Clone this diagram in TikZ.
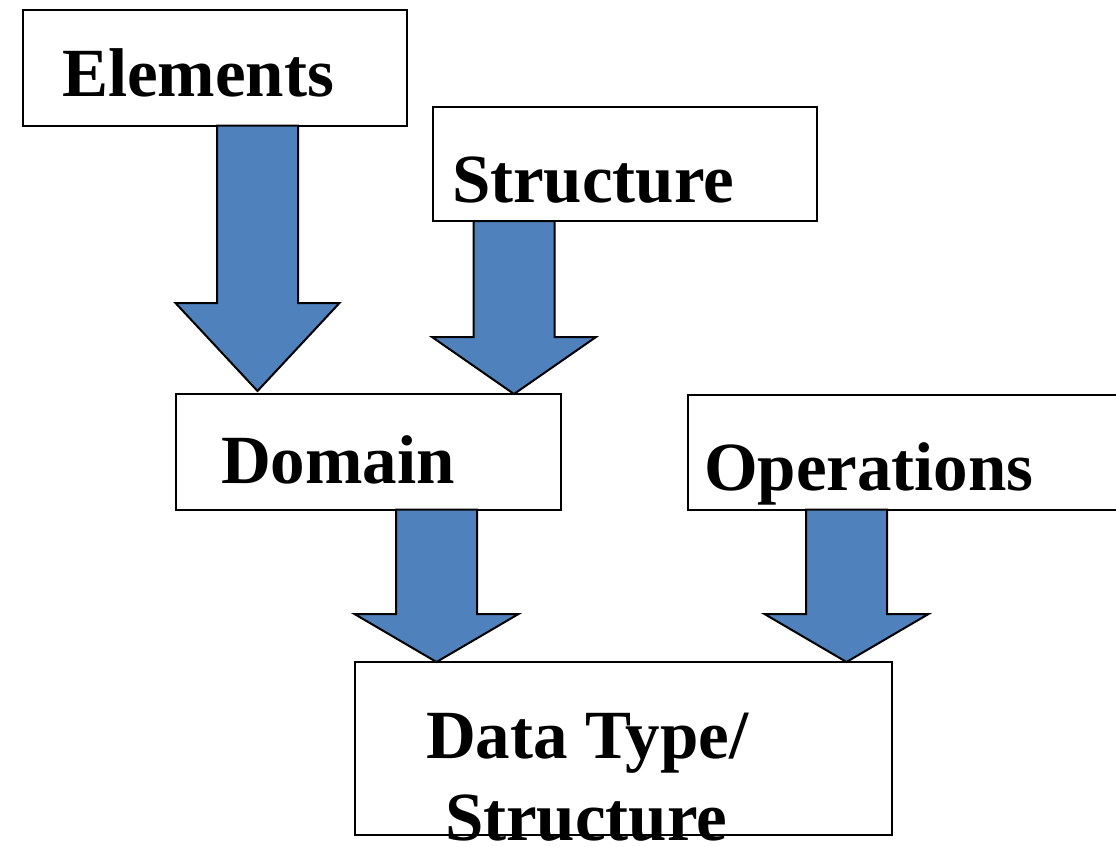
\documentclass[tikz,border=0pt]{standalone}
\usepackage{fontspec}
\setmainfont{Liberation Serif}
\usetikzlibrary{calc}

\definecolor{arrowblue}{HTML}{4F81BD}

\tikzset{
  box/.style={draw=black, line width=2pt, fill=white, rectangle,
              inner sep=0pt, outer sep=0pt, anchor=north west},
  label/.style={inner sep=0pt, outer sep=0pt, anchor=base west,
                font=\fontsize{69pt}{83pt}\selectfont\bfseries},
  blockarrow/.style={draw=black, line width=2pt, fill=arrowblue,
                     line join=miter}
}

% Broad downward arrow from the bottom of #1 to the top of #2,
% centred at x = #3, head #4 long, tip stopping #5 short of #2.
\newcommand\blockdown[5]{%
  \draw[blockarrow] let \p1=(#1.south), \p2=(#2.north) in
    ({#3pt-40.5pt},\y1) -- ({#3pt+40.5pt},\y1)
    -- ({#3pt+40.5pt},{\y2+#5pt+#4pt}) -- ({#3pt+82pt},{\y2+#5pt+#4pt})
    -- ({#3pt},{\y2+#5pt})
    -- ({#3pt-82pt},{\y2+#5pt+#4pt}) -- ({#3pt-40.5pt},{\y2+#5pt+#4pt})
    -- cycle;}

\begin{document}
\begin{tikzpicture}[x=1pt, y=-1pt]
  \useasboundingbox (0,0) rectangle (1116,846);

  % boxes
  \node[box, minimum width=384pt, minimum height=115.5pt] (elements) at (22.5,10) {};
  \node[box, minimum width=384pt, minimum height=114.5pt] (structure) at (432.5,106.5) {};
  \node[box, minimum width=384.5pt, minimum height=115.5pt] (domain) at (176,394) {};
  \node[box, minimum width=440pt, minimum height=115pt] (operations) at (687.5,394.5) {};
  \node[box, minimum width=537pt, minimum height=173pt] (datatype) at (355,662) {};

  % arrows
  \blockdown{elements}{domain}{257.5}{88}{3}
  \blockdown{structure}{domain}{514}{57}{0}
  \blockdown{domain}{datatype}{436.5}{48}{0}
  \blockdown{operations}{datatype}{846.5}{48}{0}

  % labels
  \node[label] (elementsText) at (62,96.5) {Elements};
  \node[label] (structureText) at (452,202.5) {Structure};
  \node[label] (domainText) at (221,483.5) {Domain};
  \node[label] (operationsText) at (704,490) {Operations};
  \node[label] (datatypeText) at (426,758) {Data Type/};
  \node[label] (datastructText) at (445,840.5) {Structure};
\end{tikzpicture}
\end{document}
